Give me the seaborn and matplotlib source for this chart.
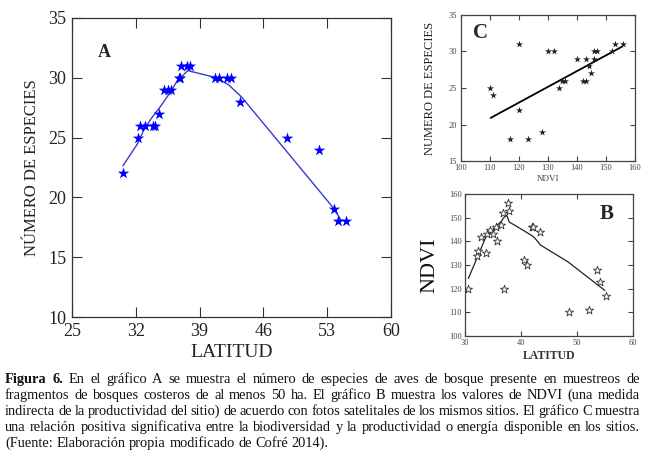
import matplotlib
matplotlib.use("Agg")
import matplotlib.pyplot as plt
import seaborn as sns
import pandas as pd

# ---------------- data ----------------
# Panel A: number of species vs latitude
latA = [30.6, 32.2, 32.5, 33.0, 33.9, 34.1, 34.5, 35.1, 35.5, 35.9, 36.7, 36.9, 37.0,
        37.6, 38.0, 40.7, 41.1, 42.0, 42.4, 43.4, 48.6, 52.1, 53.7, 54.2, 55.1]
spA = [22, 25, 26, 26, 26, 26, 27, 29, 29, 29, 30, 30, 31,
       31, 31, 30, 30, 30, 30, 28, 25, 24, 19, 18, 18]
lineA_x = [30.6, 32.2, 32.8, 33.6, 34.7, 35.8, 36.5, 37.7, 40.9, 42.2, 43.6, 48.6, 53.7, 54.6]
lineA_y = [22.65, 24.5, 25.5, 26.5, 27.6, 28.8, 29.7, 30.6, 30.0, 29.4, 28.4, 23.8, 19.1, 18.0]

# Panel B: NDVI vs latitude
latB = [30.5, 32.1, 32.4, 32.8, 33.7, 34.0, 34.5, 35.0, 35.5, 35.8, 36.5, 36.7, 36.95,
        37.6, 37.9, 40.6, 41.1, 41.9, 42.2, 43.4, 48.5, 52.2, 53.6, 54.1, 55.1]
ndviB = [120, 134, 136, 142, 135, 143, 145, 143, 146, 140, 147, 152, 120,
         156, 153, 132, 130, 146, 146, 144, 110, 111, 128, 123, 117]
lineB_x = [30.6, 33.9, 35.2, 36.5, 37.2, 37.5, 37.9, 38.6, 41.9, 42.5, 43.5, 48.4, 55.0]
lineB_y = [124.3, 142.8, 145.5, 148.5, 150.9, 150.8, 148.1, 147.2, 142.5, 141.3, 138.4, 131.3, 119.2]

# Panel C: number of species vs NDVI
ndviC = [110, 111, 120, 120, 117, 123, 128, 130, 132, 134, 135, 136, 140, 143, 142, 143,
         144, 145, 146, 147, 146, 152, 153, 156]
spC = [25, 24, 31, 22, 18, 18, 19, 30, 30, 25, 26, 26, 29, 29, 26, 26,
       28, 27, 30, 30, 29, 30, 31, 31]
fitC_x = [110.3, 155.7]
fitC_y = [20.9, 30.7]

ticksA_x = [25, 32, 39, 46, 53, 60]
ticksA_y = [10, 15, 20, 25, 30, 35]
ticksB_x = [30, 40, 50, 60]
ticksB_y = [100, 110, 120, 130, 140, 150, 160]
ticksC_x = [100, 110, 120, 130, 140, 150, 160]
ticksC_y = [15, 20, 25, 30, 35]

caption = [
    [("Figura 6.", "bold"),
     ("En el gráfico A se muestra el número de especies de aves de bosque presente en muestreos de", "normal")],
    [("fragmentos de bosques costeros de al menos 50 ha. El gráfico B muestra los valores de NDVI (una medida", "normal")],
    [("indirecta de la productividad del sitio) de acuerdo con fotos satelitales de los mismos sitios. El gráfico C muestra", "normal")],
    [("una relación positiva significativa entre la biodiversidad y la productividad o energía disponible en los sitios.", "normal")],
    [("(Fuente: Elaboración propia modificado de Cofré 2014).", "normal")],
]

# ---------------- style ----------------
sns.set_style("ticks")
plt.rcParams["font.family"] = ["Liberation Serif", "DejaVu Serif"]
plt.rcParams["axes.linewidth"] = 0.9

W, H = 646, 458
fig = plt.figure(figsize=(W / 100, H / 100), dpi=100)


def box(l, t, r, b):
    return [l / W, 1 - b / H, (r - l) / W, (b - t) / H]


def style_axes(ax, xt, yt, size, length, xpad, ypad, color, spine_color):
    ax.set_xticks(xt)
    ax.set_yticks(yt)
    ax.set_xlim(xt[0], xt[-1])
    ax.set_ylim(yt[0], yt[-1])
    ax.tick_params(direction="in", top=True, right=True, length=length, width=0.8,
                   labelsize=size, colors=spine_color, labelcolor=color)
    ax.tick_params(axis="x", pad=xpad)
    ax.tick_params(axis="y", pad=ypad)
    for s in ax.spines.values():
        s.set_visible(True)
        s.set_color(spine_color)


# ---------------- Panel A ----------------
axA = fig.add_axes(box(72, 18, 391, 317))
sns.lineplot(x=lineA_x, y=lineA_y, ax=axA, sort=False, estimator=None,
             color="#3a3acc", lw=1.0)
sns.scatterplot(x=latA, y=spA, ax=axA, marker="*", s=75, color="#0000ff",
                linewidth=0, zorder=3)
style_axes(axA, ticksA_x, ticksA_y, 13, 7, 4, 4, "#222222", "#333333")
axA.set_xlabel("LATITUD", fontsize=14, labelpad=3, color="#222222")
axA.set_ylabel("NÚMERO DE ESPECIES", fontsize=12, labelpad=6, color="#222222")
axA.text(0.08, 0.885, "A", transform=axA.transAxes, fontsize=13, fontweight="bold",
         ha="left", va="center")

# ---------------- Panel C ----------------
axC = fig.add_axes(box(460.7, 15, 635, 161))
sns.lineplot(x=fitC_x, y=fitC_y, ax=axC, color="black", lw=1.3)
sns.scatterplot(x=ndviC, y=spC, ax=axC, marker="*", s=28, color="#222222",
                linewidth=0, zorder=3)
style_axes(axC, ticksC_x, ticksC_y, 6, 3.5, 2.5, 2.5, "#444444", "#444444")
axC.set_xlabel("NDVI", fontsize=6.5, labelpad=2, color="#444444")
axC.set_ylabel("NUMERO DE ESPECIES", fontsize=9, labelpad=9, color="#222222")
axC.text(0.07, 0.88, "C", transform=axC.transAxes, fontsize=15, fontweight="bold",
         ha="left", va="center")

# ---------------- Panel B ----------------
axB = fig.add_axes(box(465, 194, 633, 336))
sns.lineplot(x=lineB_x, y=lineB_y, ax=axB, sort=False, estimator=None,
             color="#222222", lw=0.9)
sns.scatterplot(x=latB, y=ndviB, ax=axB, marker="*", s=38, facecolor="white",
                edgecolor="#333333", linewidth=0.6, zorder=3)
style_axes(axB, ticksB_x, ticksB_y, 6, 3.5, 2.5, 2.5, "#444444", "#444444")
axB.set_xlabel("LATITUD", fontsize=8.5, fontweight="bold", labelpad=2, color="#333333")
axB.set_ylabel("NDVI", fontsize=16, labelpad=7, color="#111111")
axB.text(0.8, 0.86, "B", transform=axB.transAxes, fontsize=15, fontweight="bold",
         ha="left", va="center")

# ---------------- caption (justified) ----------------
fig.canvas.draw()
r = fig.canvas.get_renderer()
FAM = ["Liberation Serif", "DejaVu Serif"]


def measure(s, size, weight):
    t = fig.text(0, 0, s, fontsize=size, fontweight=weight, family=FAM)
    w = t.get_window_extent(r).width
    t.remove()
    return w


left, right = 5, 640
baselines = [383, 399, 415, 431, 447]
base_size = 10.4
for i, segs in enumerate(caption):
    words = []
    for txt, wt in segs:
        for wd in txt.split(" "):
            words.append((wd, wt))
    size = base_size
    last = i == len(caption) - 1
    while True:
        space = measure("a a", size, "normal") - measure("aa", size, "normal")
        widths = [measure(wd, size, wt) for wd, wt in words]
        total = sum(widths)
        if last:
            gap = space
            break
        gap = (right - left - total) / (len(words) - 1)
        if gap >= 0.55 * space:
            break
        size -= 0.1
    x = left
    for (wd, wt), w in zip(words, widths):
        fig.text(x / W, 1 - baselines[i] / H, wd, fontsize=size, fontweight=wt,
                 family=FAM, ha="left", va="baseline", color="#111111")
        x += w + gap

fig.savefig("out.png", dpi=100)
